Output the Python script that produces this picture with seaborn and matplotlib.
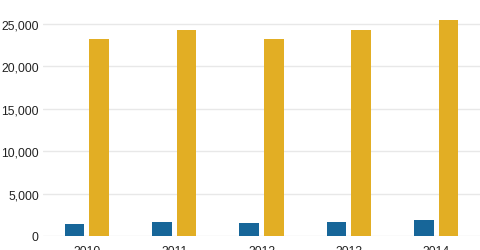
import matplotlib
matplotlib.use("Agg")
import matplotlib.pyplot as plt
import seaborn as sns
import pandas as pd

years = ["2010", "2011", "2012", "2013", "2014"]
series_a = [1380, 1650, 1550, 1700, 1880]
series_b = [23200, 24300, 23200, 24300, 25500]
yticks = [0, 5000, 10000, 15000, 20000, 25000]

df = pd.DataFrame({
    "year": years * 2,
    "value": series_a + series_b,
    "series": ["A"] * len(years) + ["B"] * len(years),
})

sns.set_theme(style="white")
plt.rcParams["font.family"] = ["Liberation Sans", "DejaVu Sans"]

fig = plt.figure(figsize=(4.8, 2.51), dpi=100)
ax = fig.add_axes([0.0896, 0.056, 0.9104, 0.944])
sns.barplot(data=df, x="year", y="value", hue="series",
            palette=["#176699", "#e2ae24"], width=0.56, gap=0.2,
            legend=False, ax=ax, saturation=1, linewidth=0)
ax.set_ylim(0, 27950)
ax.set_xlim(-0.5, 4.5)
ax.set_yticks(yticks)
ax.set_yticklabels([f"{v:,}" for v in yticks])
ax.grid(axis="y", color="#e8e8e8", linewidth=1)
ax.set_axisbelow(True)
for s in ax.spines.values():
    s.set_visible(False)
ax.tick_params(axis="both", length=0, labelsize=8.7, colors="#222222", pad=3)
ax.tick_params(axis="x", pad=6.5)
ax.set_xlabel("")
ax.set_ylabel("")
fig.savefig("out.png", dpi=100)
